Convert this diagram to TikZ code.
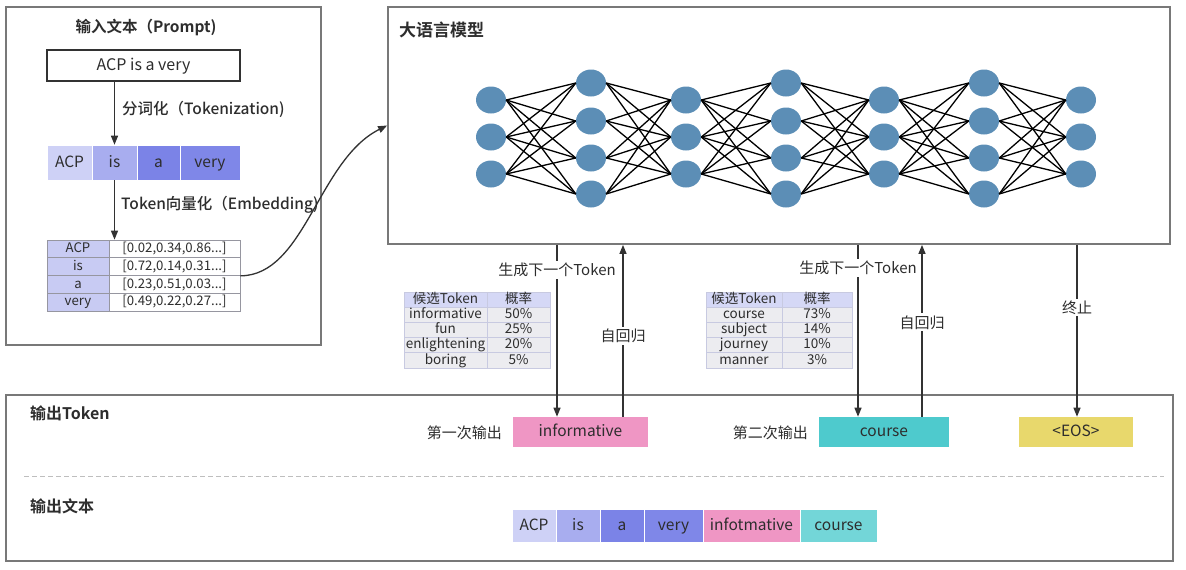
\documentclass[tikz,border=0pt]{standalone}
\usepackage{fontspec}
\setmainfont{Noto Sans CJK SC}[BoldFont={Noto Sans CJK SC Bold}]
\newfontfamily\medfont{Noto Sans CJK SC Medium}
\usetikzlibrary{shapes.geometric,arrows.meta,calc}
\newcommand\myfs[1]{\fontsize{#1}{#1}\selectfont}
\definecolor{txt}{RGB}{45,45,45}
\definecolor{panelgray}{RGB}{120,120,120}
\definecolor{arrc}{RGB}{50,50,50}
\definecolor{lav1}{RGB}{206,209,246}
\definecolor{lav2}{RGB}{168,173,239}
\definecolor{lav3}{RGB}{123,131,231}
\definecolor{lav4}{RGB}{127,135,232}
\definecolor{embc}{RGB}{200,203,243}
\definecolor{gridc}{RGB}{150,150,160}
\definecolor{hdr}{RGB}{213,216,246}
\definecolor{bodyc}{RGB}{236,236,240}
\definecolor{tgrid}{RGB}{200,202,225}
\definecolor{pinkc}{RGB}{239,150,196}
\definecolor{tealc}{RGB}{78,202,205}
\definecolor{teall}{RGB}{115,214,216}
\definecolor{yellc}{RGB}{232,216,108}
\definecolor{neuc}{RGB}{92,142,182}
\definecolor{dashc}{RGB}{190,190,190}
\tikzset{
  panel/.style={rectangle, draw=panelgray, line width=1.8pt, inner sep=0pt},
  ttl/.style={font=\myfs{15.5}\bfseries, text=txt, inner sep=0pt},
  lbl/.style={font=\myfs{15}, text=txt, inner sep=2pt, fill=white},
  plain/.style={font=\myfs{15}, text=txt, inner sep=0pt},
  cell/.style={rectangle, inner sep=0pt, font=\myfs{15.5}, text=txt, draw=white, line width=0.6pt, text height=13pt, text depth=3.5pt},
  ecell/.style={rectangle, inner sep=0pt, font=\myfs{13.2}, text=txt, draw=gridc, line width=0.7pt, minimum height=17.75pt, text height=10.5pt, text depth=2.9pt},
  tcell/.style={rectangle, inner sep=0pt, font=\myfs{13.5}, text=txt, draw=tgrid, line width=0.7pt, minimum height=15.2pt, text height=10.5pt, text depth=3pt},
  neuron/.style={ellipse, fill=neuc, draw=none, minimum width=30pt, minimum height=27pt, inner sep=0pt},
  edge/.style={draw=black, line width=1.3pt},
  arr/.style={draw=arrc, line width=1.3pt, -{Triangle[length=9pt,width=7pt]}},
}
\begin{document}
\begin{tikzpicture}[x=1pt,y=-1pt]
\useasboundingbox (0,0) rectangle (1186,570);
% ---------- panels
\node[panel, minimum width=315pt, minimum height=338pt] (inpanel) at (163.5,176) {};
\node[panel, minimum width=782pt, minimum height=237pt] (llm) at (779,125.5) {};
\node[panel, minimum width=1167pt, minimum height=166pt] (outpanel) at (589.5,478) {};
% ---------- input side
\node[ttl] (tin) at (146,28) {输入文本（Prompt)};
\node[rectangle, draw=arrc, line width=1.3pt, minimum width=193pt, minimum height=31pt, inner sep=0pt, font=\myfs{16}, text=txt, text height=13pt, text depth=3.6pt] (prompt) at (143.5,65.5) {ACP is a very};
\node[cell, fill=lav1, minimum width=45pt, minimum height=35pt] (t1) at (69.5,162.5) {ACP};
\node[cell, fill=lav2, minimum width=45pt, minimum height=35pt] (t2) at (114.5,162.5) {is};
\node[cell, fill=lav3, minimum width=43pt, minimum height=35pt] (t3) at (158.5,162.5) {a};
\node[cell, fill=lav4, minimum width=60pt, minimum height=35pt] (t4) at (210,162.5) {very};
\draw[arr] (prompt.south -| t2.north) -- (t2.north);
\node[plain, anchor=west, font=\myfs{15.5}\medfont] (lab1) at (122,109) {分词化（Tokenization)};
% embedding table
\foreach \r/\w/\v in {1/ACP/{[0.02,0.34,0.86...]},2/is/{[0.72,0.14,0.31...]},3/a/{[0.23,0.51,0.03...]},4/very/{[0.49,0.22,0.27...]}}{
  \node[ecell, fill=embc, minimum width=62pt] (e\r-1) at (78,{240+17.75*(\r-0.5)}) {\w};
  \node[ecell, fill=white, minimum width=131pt] (e\r-2) at (174.5,{240+17.75*(\r-0.5)}) {\v};
}
\draw[arr] (t2.south) -- (t2.south |- e1-2.north);
\node[plain, anchor=west, font=\myfs{15.5}\medfont] (lab2) at (121,205) {Token向量化（Embedding)};
\draw[arr] (e2-2.south east) .. controls (305,275.5) and (318,160) .. (llm.west);
% ---------- LLM
\node[ttl, anchor=west, font=\myfs{17}\bfseries] (tllm) at (399,30) {大语言模型};
\foreach \l/\x in {1/491,3/686,5/884,7/1081}
  \foreach \j/\y in {1/100,2/137,3/174}
    \node[neuron] (n\l-\j) at (\x,\y) {};
\foreach \l/\x in {2/591,4/786,6/984}
  \foreach \j/\y in {1/83,2/121,3/158,4/194}
    \node[neuron] (n\l-\j) at (\x,\y) {};
\foreach \l in {1,3,5}{
  \pgfmathtruncatemacro\m{\l+1}
  \foreach \a in {1,2,3}
    \foreach \b in {1,2,3,4}
      \draw[edge] (n\l-\a.east) -- (n\m-\b.west);
}
\foreach \l in {2,4,6}{
  \pgfmathtruncatemacro\m{\l+1}
  \foreach \a in {1,2,3,4}
    \foreach \b in {1,2,3}
      \draw[edge] (n\l-\a.east) -- (n\m-\b.west);
}
% ---------- candidate tables
\node[tcell, fill=hdr, minimum width=83pt] (ta-0-1) at (445.5,299.6) {候选Token};
\node[tcell, fill=hdr, minimum width=63pt] (ta-0-2) at (518.5,299.6) {概率};
\foreach \r/\a/\b in {1/informative/50\%,2/fun/25\%,3/enlightening/20\%,4/boring/5\%}{
  \node[tcell, fill=bodyc, minimum width=83pt] (ta-\r-1) at (445.5,{292+15.2*(\r+0.5)}) {\a};
  \node[tcell, fill=bodyc, minimum width=63pt] (ta-\r-2) at (518.5,{292+15.2*(\r+0.5)}) {\b};
}
\node[tcell, fill=hdr, minimum width=76pt] (tb-0-1) at (744,299.6) {候选Token};
\node[tcell, fill=hdr, minimum width=70pt] (tb-0-2) at (817,299.6) {概率};
\foreach \r/\a/\b in {1/course/73\%,2/subject/14\%,3/journey/10\%,4/manner/3\%}{
  \node[tcell, fill=bodyc, minimum width=76pt] (tb-\r-1) at (744,{292+15.2*(\r+0.5)}) {\a};
  \node[tcell, fill=bodyc, minimum width=70pt] (tb-\r-2) at (817,{292+15.2*(\r+0.5)}) {\b};
}
% ---------- output tokens
\node[ttl, anchor=west, font=\myfs{16}\bfseries] (tout) at (30,413) {输出Token};
\node[plain, anchor=east] (first) at (502,433) {第一次输出};
\node[cell, draw=none, fill=pinkc, minimum width=135pt, minimum height=30pt] (o1) at (580.5,432) {informative};
\node[plain, anchor=east] (second) at (808,433) {第二次输出};
\node[cell, draw=none, fill=tealc, minimum width=130pt, minimum height=30pt] (o2) at (884,432) {course};
\node[cell, draw=none, fill=yellc, minimum width=114pt, minimum height=30pt] (o3) at (1076,432) {<EOS>};
% arrows between LLM and outputs
\coordinate (a1d) at ([xshift=-23.5pt]o1.north);
\coordinate (a1u) at ([xshift=42.5pt]o1.north);
\coordinate (a2d) at ([xshift=-26pt]o2.north);
\coordinate (a2u) at ([xshift=38pt]o2.north);
\coordinate (a3d) at ([xshift=1pt]o3.north);
\draw[arr] (llm.south -| a1d) -- node[lbl, pos=0.145] {生成下一个Token} (a1d);
\draw[arr] (a1u) -- node[lbl, pos=0.468] {自回归} (llm.south -| a1u);
\draw[arr] (llm.south -| a2d) -- node[lbl, pos=0.133] {生成下一个Token} (a2d);
\draw[arr] (a2u) -- node[lbl, pos=0.549] {自回归} (llm.south -| a2u);
\draw[arr] (llm.south -| a3d) -- node[lbl, pos=0.364] {终止} (a3d);
% dashed separator
\draw[draw=dashc, line width=1pt, dash pattern=on 5pt off 3pt] ([xshift=19pt]outpanel.west |- 0,476) -- ([xshift=-10pt]outpanel.east |- 0,476);
% ---------- output text
\node[ttl, anchor=west, font=\myfs{16}\bfseries] (tott) at (30,506) {输出文本};
\node[cell, fill=lav1, minimum width=44pt, minimum height=33pt] (r1) at (534,525.5) {ACP};
\node[cell, fill=lav2, minimum width=44pt, minimum height=33pt] (r2) at (578,525.5) {is};
\node[cell, fill=lav3, minimum width=44pt, minimum height=33pt] (r3) at (622,525.5) {a};
\node[cell, fill=lav4, minimum width=59pt, minimum height=33pt] (r4) at (673.5,525.5) {very};
\node[cell, fill=pinkc, minimum width=97pt, minimum height=33pt] (r5) at (751.5,525.5) {infotmative};
\node[cell, fill=teall, minimum width=77pt, minimum height=33pt] (r6) at (838.5,525.5) {course};
\end{tikzpicture}
\end{document}
